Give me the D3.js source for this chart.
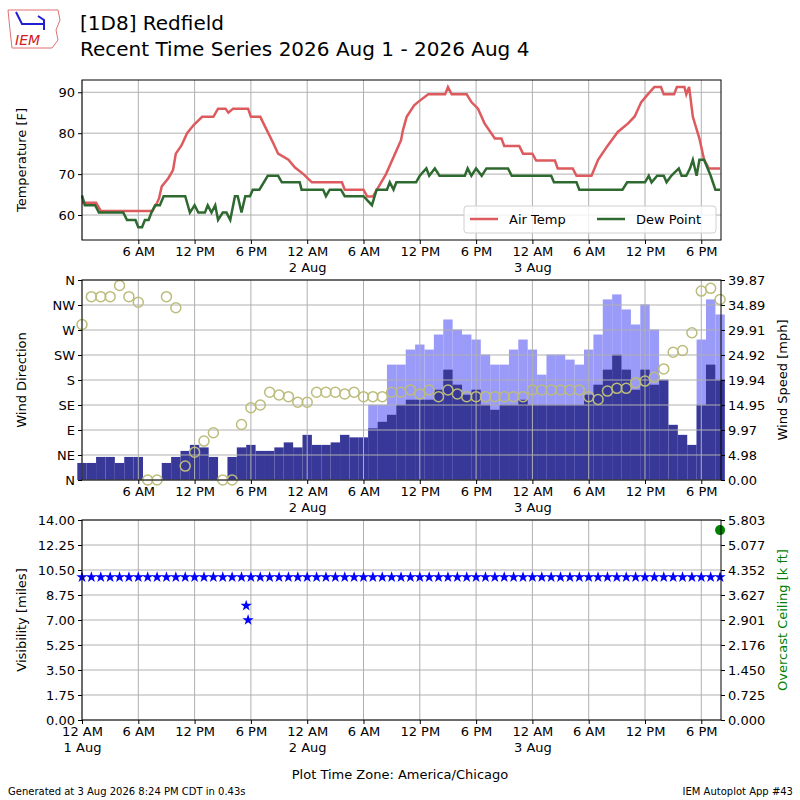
<!DOCTYPE html>
<html><head><meta charset="utf-8">
<script src="https://cdn.jsdelivr.net/npm/d3@7"></script>
<style>body{margin:0;background:#fff}text{font-family:"DejaVu Sans",sans-serif}</style>
</head><body>
<svg id="c" width="800" height="800"></svg>
<script>
// hours since 2026-08-01 00:00 CDT
var airTemp = [[0,63],[1.5,63],[2,61],[7.5,61],[8,63],[8.2,64],[8.5,67],[9.2,69],[9.7,71],[10,75],[10.6,77],[11.2,80],[11.9,82],[12.8,84],[14,84],[14.5,86],[15.3,86],[15.6,85],[16.1,86],[17.7,86],[18,84],[19,84],[20.4,77.5],[20.9,75],[22,73.5],[22.7,71.6],[23.6,70],[24.5,68],[27.7,68],[28,66.2],[30,66.2],[30.4,64.5],[31,64.5],[32.4,70],[34,78.3],[34.2,80.7],[34.6,84],[35.4,86.8],[35.8,87.6],[36.9,89.5],[38.7,89.5],[39,91.3],[39.4,89.5],[41,89.5],[41.5,87.6],[42.2,86],[42.9,82.4],[44,78.7],[44.7,78.7],[45,76.9],[46.6,76.9],[47,75],[48,75],[48.4,73.3],[50.4,73.3],[50.7,71.4],[52.3,71.4],[52.7,69.6],[54.3,69.6],[55,73.5],[56,76.9],[57.1,80.3],[58.2,82.4],[58.9,84.1],[59.6,87.6],[60.3,89.5],[61,91.3],[61.7,91.3],[62,89.5],[63.1,89.5],[63.4,91.3],[64.2,91.3],[64.4,89.5],[64.7,91.3],[65.1,84],[65.8,78.7],[66.3,73.5],[66.8,71.4],[68,71.4]];
var dewPoint = [[0,64.8],[0.3,62.4],[1.4,62.4],[1.8,60.6],[4.4,60.6],[4.8,58.8],[5.7,58.8],[6,57],[6.4,57],[6.7,58.8],[7.1,58.8],[7.4,60.6],[7.8,62.4],[8.3,62.4],[8.7,64.6],[11,64.6],[11.5,60.6],[12,62.4],[12.4,60.6],[13.1,60.6],[13.4,62.4],[13.8,60.6],[14.2,62.4],[14.5,58.8],[15,60.6],[15.4,60.6],[15.8,58.8],[16.3,64.6],[16.6,64.6],[17,60.6],[17.4,64.6],[17.9,64.6],[18.2,66.2],[18.9,66.2],[19.8,69.6],[20.9,69.6],[21.3,68],[23.2,68],[23.4,66.2],[25.7,66.2],[26,64.6],[26.4,66.2],[27.6,66.2],[28,64.6],[30,64.6],[30.9,62.4],[31.4,66.2],[32.5,66.2],[32.8,68],[33.2,66.2],[33.5,68],[35.6,68],[36,69.6],[36.7,71.4],[37,69.6],[37.6,71.4],[38.1,69.6],[40.8,69.6],[41.1,71.4],[41.5,69.6],[42,71.4],[42.6,69.6],[43.1,71.4],[45.4,71.4],[45.8,69.6],[50,69.6],[50.3,68],[52.7,68],[53,66.2],[57.6,66.2],[58.1,68],[60,68],[60.4,69.6],[60.7,68],[61.3,69.6],[62,69.6],[62.3,68],[62.8,69.6],[63.6,71.4],[63.9,69.6],[64.4,69.6],[64.8,71.4],[65.1,73.5],[65.5,69.6],[65.8,73.5],[66.3,73.5],[67,69.6],[67.5,66.2],[68,66.2]];
// hourly wind obs, h0..h68
var windSpeed = [3.4,3.4,4.6,4.6,3.4,4.6,4.6,0,0,3.4,4.6,5.8,7,6.5,4.6,0,4.6,6.5,7,5.8,5.8,6.5,7.5,6.5,9,7,7,7.5,9,8.5,8.5,10.3,11.6,13,15,16,16,16,18,22,19,17,18,15,14,15,15,16,15,15,15,15,15,15,17,19,22,25,22,18,22,19,20,11,9,7,15,23,20];
var windGust = [0,0,0,0,0,0,0,0,0,0,0,0,0,0,0,0,0,0,0,0,0,0,0,0,0,0,0,0,0,0,0,15,15,23,23,26,27,26,29,32,30,29,28,25,23,23,26,28,26,21,25,25,24,23,26,29,36,37,34,31,35,30,0,0,0,0,28,36,33];
var windDir = [280,330,330,330,350,330,320,0,0,330,310,25,50,70,85,0,0,100,130,135,158,153,150,140,140,158,158,158,155,158,150,150,150,158,158,162,155,162,150,162,155,150,150,150,150,150,150,150,162,162,162,162,162,162,150,145,160,165,165,175,178,185,200,230,233,265,340,345,325];
var visibility = [10,10,10,10,10,10,10,10,10,10,10,10,10,10,10,10,10,10,10,10,10,10,10,10,10,10,10,10,10,10,10,10,10,10,10,10,10,10,10,10,10,10,10,10,10,10,10,10,10,10,10,10,10,10,10,10,10,10,10,10,10,10,10,10,10,10,10,10,10];
var visExtra = [[17.5,8],[17.7,7]];
var ceiling = [[68,5.51]];
var tickHours = [0,6,12,18,24,30,36,42,48,54,60,66];
var tickLabels = ["12 AM","6 AM","12 PM","6 PM","12 AM","6 AM","12 PM","6 PM","12 AM","6 AM","12 PM","6 PM"];
var dayLabels = {0:"1 Aug",24:"2 Aug",48:"3 Aug"};
var dirLabels = ["N","NE","E","SE","S","SW","W","NW","N"];
var speedTicks = ["0.00","4.98","9.97","14.95","19.94","24.92","29.91","34.89","39.87"];
var visTicks = ["0.00","1.75","3.50","5.25","7.00","8.75","10.50","12.25","14.00"];
var ceilTicks = ["0.000","0.725","1.450","2.176","2.901","3.627","4.352","5.077","5.803"];

var svg = d3.select("#c");
var L = 82, R = 721;
var x = d3.scaleLinear().domain([0, 68.1]).range([L, R]);
var grid = "#b0b0b0";

function timeAxis(g, y0, showFirst) {
  var tv = showFirst ? tickHours : tickHours.slice(1);
  var ax = g.append("g").attr("transform", "translate(0," + y0 + ")")
    .call(d3.axisBottom(x).tickValues(tv).tickSize(4).tickFormat(function(d){ return tickLabels[tickHours.indexOf(d)]; }));
  ax.selectAll("text").attr("font-size", 13).attr("fill", "#000");
  ax.select(".domain").remove();
  ax.selectAll(".tick").each(function(d){
    if (dayLabels[d]) d3.select(this).append("text").attr("y", 23).attr("dy", "0.71em").attr("fill", "#000").attr("font-size", 13).text(dayLabels[d]);
  });
}
function vgrid(g, top, bot) {
  g.selectAll(null).data(tickHours).enter().append("line")
    .attr("x1", x).attr("x2", x).attr("y1", top).attr("y2", bot).attr("stroke", grid);
}
function hgrid(g, ys) {
  g.selectAll(null).data(ys).enter().append("line")
    .attr("x1", L).attr("x2", R).attr("y1", function(d){return d;}).attr("y2", function(d){return d;}).attr("stroke", grid);
}
function frame(top, bot) {
  svg.append("rect").attr("x", L).attr("y", top).attr("width", R - L).attr("height", bot - top).attr("fill", "none").attr("stroke", "#000");
}
function leftLabel(text, cy, col) {
  svg.append("text").attr("transform", "translate(26," + cy + ") rotate(-90)").attr("text-anchor", "middle").attr("font-size", 13).attr("fill", col || "#000").text(text);
}
function rightLabel(text, cy, col) {
  svg.append("text").attr("transform", "translate(787," + cy + ") rotate(-90)").attr("text-anchor", "middle").attr("font-size", 13).attr("fill", col || "#000").text(text);
}
function idxAxis(axis, scale, labels) {
  var vals = labels.map(Number);
  return axis(scale).tickValues(vals).tickSize(4).tickFormat(function(d){ return labels[vals.indexOf(d)]; });
}

// header
svg.append("text").attr("x", 80).attr("y", 30).attr("font-size", 20).text("[1D8] Redfield");
svg.append("text").attr("x", 80).attr("y", 56).attr("font-size", 20).text("Recent Time Series 2026 Aug 1 - 2026 Aug 4");
svg.append("path").attr("d", "M8,10 L58,10 L60,20 L56,30 L58,40 L52,48 L12,48 L10,30 Z").attr("fill", "none").attr("stroke", "#e07070");
svg.append("text").attr("x", 15).attr("y", 45).attr("font-size", 14).attr("font-style", "italic").attr("font-family", "DejaVu Serif").attr("fill", "#d02020").text("IEM");
svg.append("path").attr("d", "M16,12 L22,24 L44,24 M38,16 L44,20 L44,30").attr("stroke", "#2020d0").attr("stroke-width", 2).attr("fill", "none");

// ---- panel 1 temperatures
var T0 = 80, T1 = 240;
var yT = d3.scaleLinear().domain([53.9, 93]).range([T1, T0]);
var g1 = svg.append("g");
vgrid(g1, T0, T1);
hgrid(g1, [60,70,80,90].map(yT));
var line = d3.line().x(function(d){return x(d[0]);}).y(function(d){return yT(d[1]);});
g1.append("path").datum(airTemp).attr("d", line).attr("fill", "none").attr("stroke", "#dd5a5e").attr("stroke-width", 2.5);
g1.append("path").datum(dewPoint).attr("d", line).attr("fill", "none").attr("stroke", "#2e6a30").attr("stroke-width", 2.5);
var ayT = svg.append("g").attr("transform", "translate(" + L + ",0)").call(d3.axisLeft(yT).tickValues([60,70,80,90]).tickSize(4));
ayT.selectAll("text").attr("font-size", 13); ayT.select(".domain").remove();
timeAxis(svg, T1, false);
frame(T0, T1);
leftLabel("Temperature [F]", 160);
var lg = svg.append("g").attr("transform", "translate(464,206)");
lg.append("rect").attr("width", 252).attr("height", 27).attr("rx", 3).attr("fill", "#fff").attr("fill-opacity", 0.8).attr("stroke", "#d0d0d0");
lg.append("line").attr("x1", 6).attr("x2", 34).attr("y1", 13).attr("y2", 13).attr("stroke", "#dd5a5e").attr("stroke-width", 2.5);
lg.append("text").attr("x", 45).attr("y", 18).attr("font-size", 13).text("Air Temp");
lg.append("line").attr("x1", 133).attr("x2", 161).attr("y1", 13).attr("y2", 13).attr("stroke", "#2e6a30").attr("stroke-width", 2.5);
lg.append("text").attr("x", 172).attr("y", 18).attr("font-size", 13).text("Dew Point");

// ---- panel 2 wind
var W0 = 280, W1 = 480;
var yD = d3.scaleLinear().domain([0, 360]).range([W1, W0]);
var yS = d3.scaleLinear().domain([0, 39.87]).range([W1, W0]);
var g2 = svg.append("g");
var bw = x(1) - x(0);
g2.selectAll(".gust").data(windGust).enter().append("rect")
  .attr("x", function(d,i){return x(i) - bw/2;}).attr("width", bw).attr("y", function(d){return yS(d);}).attr("height", function(d){return W1 - yS(d);}).attr("fill", "#9a9af8");
g2.selectAll(".spd").data(windSpeed).enter().append("rect")
  .attr("x", function(d,i){return x(i) - bw/2;}).attr("width", bw).attr("y", function(d){return yS(d);}).attr("height", function(d){return W1 - yS(d);}).attr("fill", "#383898");
vgrid(g2, W0, W1);
hgrid(g2, d3.range(0, 361, 45).map(yD));
g2.selectAll("circle").data(windDir).enter().append("circle")
  .attr("cx", function(d,i){return x(i);}).attr("cy", function(d){return yD(d);}).attr("r", 5)
  .attr("fill", "none").attr("stroke", "#bcbc7c").attr("stroke-width", 1.5);
var ayD = svg.append("g").attr("transform", "translate(" + L + ",0)").call(d3.axisLeft(yD).tickValues(d3.range(0,361,45)).tickSize(4).tickFormat(function(d){return dirLabels[d/45];}));
ayD.selectAll("text").attr("font-size", 13); ayD.select(".domain").remove();
var ayS = svg.append("g").attr("transform", "translate(" + R + ",0)").call(idxAxis(d3.axisRight, yS, speedTicks));
ayS.selectAll("text").attr("font-size", 13); ayS.select(".domain").remove();
timeAxis(svg, W1, false);
frame(W0, W1);
leftLabel("Wind Direction", 380);
rightLabel("Wind Speed [mph]", 380);

// ---- panel 3 visibility
var V0 = 520, V1 = 720;
var yV = d3.scaleLinear().domain([0, 14]).range([V1, V0]);
var yC = d3.scaleLinear().domain([0, 5.803]).range([V1, V0]);
var g3 = svg.append("g");
vgrid(g3, V0, V1);
hgrid(g3, visTicks.map(function(t){return yV(+t);}));
var star = d3.symbol().type(d3.symbolStar).size(40);
var visPts = visibility.map(function(v,i){return [i,v];}).concat(visExtra);
g3.selectAll(".vis").data(visPts).enter().append("path").attr("d", star)
  .attr("transform", function(d){return "translate(" + x(d[0]) + "," + yV(d[1]) + ")";}).attr("fill", "#0000ff");
g3.selectAll(".ceil").data(ceiling).enter().append("circle")
  .attr("cx", function(d){return x(d[0]);}).attr("cy", function(d){return yC(d[1]);}).attr("r", 5).attr("fill", "#008000");
var ayV = svg.append("g").attr("transform", "translate(" + L + ",0)").call(idxAxis(d3.axisLeft, yV, visTicks));
ayV.selectAll("text").attr("font-size", 13); ayV.select(".domain").remove();
var ayC = svg.append("g").attr("transform", "translate(" + R + ",0)").call(idxAxis(d3.axisRight, yC, ceilTicks));
ayC.selectAll("text").attr("font-size", 13); ayC.select(".domain").remove();
timeAxis(svg, V1, true);
frame(V0, V1);
leftLabel("Visibility [miles]", 620);
rightLabel("Overcast Ceiling [k ft]", 620, "#008000");

svg.append("text").attr("x", 400).attr("y", 779).attr("text-anchor", "middle").attr("font-size", 13).text("Plot Time Zone: America/Chicago");
svg.append("text").attr("x", 8).attr("y", 795).attr("font-size", 10).text("Generated at 3 Aug 2026 8:24 PM CDT in 0.43s");
svg.append("text").attr("x", 793).attr("y", 795).attr("text-anchor", "end").attr("font-size", 10).text("IEM Autoplot App #43");
</script>
</body></html>
